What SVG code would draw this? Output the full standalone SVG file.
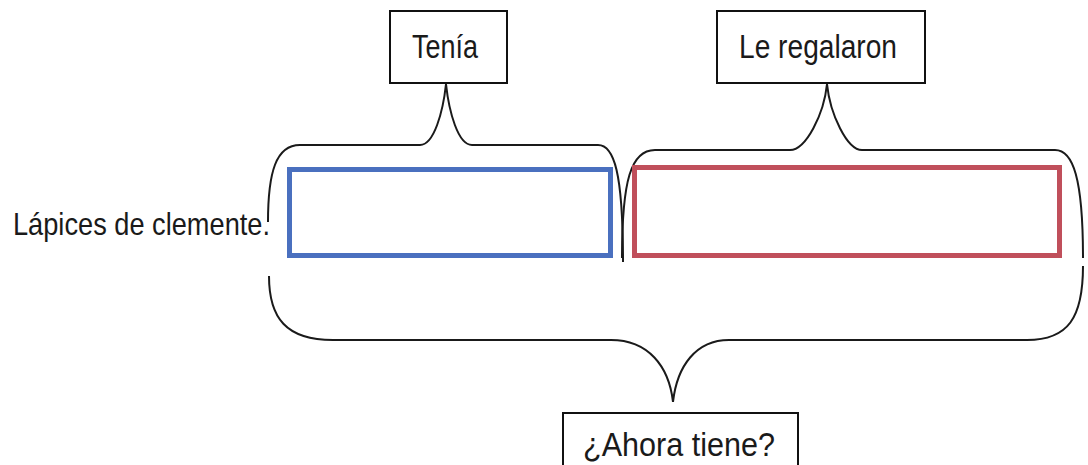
<svg xmlns="http://www.w3.org/2000/svg" width="1088" height="465" viewBox="0 0 1088 465">
<style>
.box{fill:#fff;stroke:#111;stroke-width:2}
.lbl{font-family:"Liberation Sans",Arial,sans-serif;fill:#1a1a1a}
.brace{fill:none;stroke:#1a1a1a;stroke-width:2}
</style>
<rect width="1088" height="465" fill="#fff"/>
<g id="connectors">
<path class="brace" d="M268,222 C268,172 276,145 300,145 L420,145 C434,145 443,112 446,84 C449,112 458,145 472,145 L598,145 C614,145 623,172 623,262"/>
<path class="brace" d="M622,258 C622,180 631,150 655,150 L790,150 C806,150 824,114 827,84 C830,114 847,150 862,150 L1055,150 C1073,150 1083,178 1083,258"/>
<path class="brace" d="M269,276 C269,318 286,340 333,340 L611,340 C648,340 669,366 673,402 C677,366 696,340 729,340 L1027,340 C1068,340 1083,318 1083,266"/>
</g>
<g id="label-lapices">
<text class="lbl" x="13" y="235" font-size="32" textLength="257" lengthAdjust="spacingAndGlyphs">Lápices de clemente.</text>
</g>
<g id="rect-tenia">
<rect x="289.5" y="169.5" width="321" height="86" fill="#fff" stroke="#4a70bf" stroke-width="5"/>
</g>
<g id="rect-regalaron">
<rect x="634.5" y="167.5" width="425" height="88" fill="#fff" stroke="#c04f5b" stroke-width="5"/>
</g>
<g id="node-tenia">
<rect class="box" x="390" y="11" width="117" height="72"/>
<text class="lbl" x="412" y="58" font-size="34" textLength="66" lengthAdjust="spacingAndGlyphs">Tenía</text>
</g>
<g id="node-regalaron">
<rect class="box" x="717" y="11" width="208" height="72"/>
<text class="lbl" x="739" y="58" font-size="34" textLength="158" lengthAdjust="spacingAndGlyphs">Le regalaron</text>
</g>
<g id="node-ahora">
<rect class="box" x="563" y="413" width="235" height="60"/>
<text class="lbl" x="583" y="456" font-size="34" textLength="192" lengthAdjust="spacingAndGlyphs">¿Ahora tiene?</text>
</g>
</svg>
